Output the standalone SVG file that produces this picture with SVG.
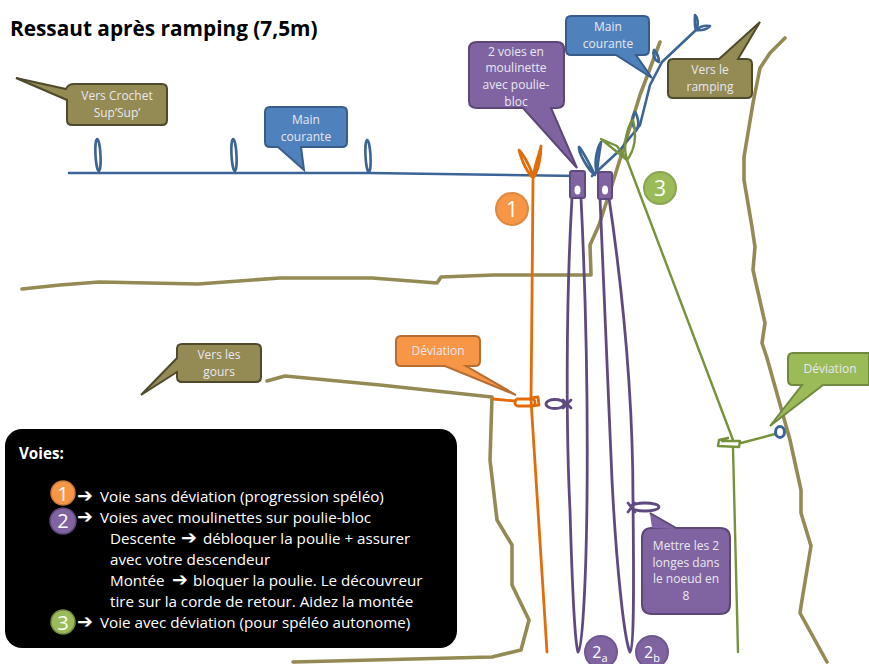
<svg xmlns="http://www.w3.org/2000/svg" width="869" height="664" viewBox="0 0 869 664">
<style>
text{font-family:"Liberation Sans","Open Sans",sans-serif;text-anchor:middle}
.l{fill:#e8e8f0;font-size:12px;font-family:"Open Sans","Liberation Sans",sans-serif}
.r,.b,.o,.p,.g{fill:none;stroke-linecap:round;stroke-linejoin:round}
.r{stroke:#948a54;stroke-width:3.6}
.b{stroke:#3c6494;stroke-width:2.6}
.o{stroke:#e36c0a;stroke-width:2.8}
.p{stroke:#5f4a80;stroke-width:2.8}
.g{stroke:#76923c;stroke-width:2.4}
.cb{fill:#4f81bd;stroke:#385d8a;stroke-width:2}
.co{fill:#f79646;stroke:#b66d31;stroke-width:2}
.cp{fill:#8064a2;stroke:#5c4776;stroke-width:2}
.cg{fill:#9bbb59;stroke:#71893f;stroke-width:2}
.cr{fill:#948a54;stroke:#4f4a2c;stroke-width:2}
.m{fill:#fff;font-size:15.2px;text-anchor:start;font-family:"Open Sans","Liberation Sans",sans-serif}
.n{fill:#fff;font-size:21px;font-family:"Open Sans","Liberation Sans",sans-serif}
.a{fill:#fff;font-size:19px;font-weight:bold;text-anchor:start;font-family:"DejaVu Sans",sans-serif}
</style>
<g id="title"><text x="10" y="36" font-size="20.8" font-weight="bold" style="text-anchor:start;font-family:'Open Sans','Liberation Sans',sans-serif" fill="#000">Ressaut après ramping (7,5m)</text></g>
<g id="connectors">
<path class="r" d="M22 289L60 285L99 282L198 284L280 278L372 278L437 283L441 277L494 275L591 275L590 245L599 225L612 185L640 95L660 42"/>
<path class="r" d="M785 38L770 53L760 68L753 103L744 157L744 180L752 227L755 247L753 270L765 323L762 343L767 358L790 440L801 490L801 513L811 546L802 600L800 613L827 662"/>
<path class="r" d="M267 381L285 376L380 385L492 397L490 460L497 520L512 545L512 585L529 620L521 650L492 657L293 662"/>
<path class="b" d="M69 173L370 173L580 176"/>
<ellipse class="b" cx="98" cy="155" rx="2.500" ry="16" transform="rotate(-3 98 155)"/>
<ellipse class="b" cx="234" cy="155" rx="2.500" ry="16" transform="rotate(-3 234 155)"/>
<ellipse class="b" cx="368" cy="156" rx="2.500" ry="16" transform="rotate(-3 368 156)"/>
<path class="b" d="M592 176L620 150L640 125L650 85L662 62L696 30"/>
<path class="b" d="M595 175C590 165 582 150 579 147C578 152 588 170 595 175Z"/>
<path class="b" d="M597 173C598 160 600 150 601 142C596 150 594 165 597 173Z"/>
<path class="b" d="M636 131C640 125 638 116 635 112C631 118 632 126 636 131Z"/>
<path class="b" d="M659 62C659 55 656 52 654 50C652 54 654 60 659 62Z"/>
<path class="b" d="M696 30C694 24 695 18 695 15C698 18 699 24 696 30ZM696 30C702 31 708 29 710 26C704 25 699 27 696 30Z"/>
<path class="o" d="M533 180L532 300L531 400L547 652"/>
<path class="o" d="M533 178C525 170 520 155 519 150C524 155 532 170 533 178ZM533 178C534 168 539 155 541 146C541 158 538 172 533 178Z"/>
<path class="o" d="M493 399L515 401"/>
<rect class="o" x="515" y="399" width="20" height="7" rx="3"/>
<path class="o" d="M531 398L538 397L539 405L531 406"/>
<path class="p" d="M572 198C566 300 566 430 570 510C572 580 574 640 578 652C582 650 586 590 587 500C588 400 586 300 581 198"/>
<path class="p" d="M600 198C604 300 608 400 612 480C616 560 624 640 630 652C634 650 634 590 633 500C633 400 624 300 609 198"/>
<ellipse class="p" cx="555" cy="404" rx="9" ry="4.500"/><path class="p" d="M563 400L571 408M563 408L571 400"/>
<ellipse class="p" cx="645" cy="507" rx="14" ry="4"/><path class="p" d="M628 503L635 512M628 512L635 503"/>
<path class="g" d="M627 160L733 440"/>
<path class="g" d="M627 160L601 139L617 146L627 160Z"/>
<path class="g" d="M627 160C622 145 628 125 633 120C637 135 635 150 627 160Z"/>
<path class="g" d="M733 448L738 652"/>
<path class="g" d="M728 438L719 440L718 446L739 447L740 441L722 441"/>
<path class="g" d="M741 443L775 434"/>
<ellipse cx="780" cy="432" rx="4.500" ry="5.500" fill="none" stroke="#3c6494" stroke-width="3"/>
</g>
<g id="rock-crochet"><path class="cr" d="M16 78L66 89Q68 84 74 84H162Q167 84 167 89V120Q167 125 162 125H72Q67 125 67 120V100Z"/><text class="l" x="117" y="100">Vers Crochet</text><text class="l" x="117" y="117">Sup’Sup’</text></g>
<g id="main1"><path class="cb" d="M270 107H342Q347 107 347 112V142Q347 147 342 147H301L304 170L278 147H270Q265 147 265 142V112Q265 107 270 107Z"/><text class="l" x="306" y="124">Main</text><text class="l" x="306" y="141">courante</text></g>
<g id="main2"><path class="cb" d="M571 16H644Q649 16 649 21V50Q649 55 644 55H636L652 78L616 55H571Q566 55 566 50V21Q566 16 571 16Z"/><text class="l" x="608" y="31">Main</text><text class="l" x="608" y="48">courante</text></g>
<g id="ramping"><path class="cr" d="M673 59H719L760 22L738 59H747Q752 59 752 64V93Q752 98 747 98H673Q668 98 668 93V64Q668 59 673 59Z"/><text class="l" x="710" y="74">Vers le</text><text class="l" x="710" y="91">ramping</text></g>
<g id="poulie"><path class="cp" d="M477 42H557Q564 42 564 49V101Q564 108 557 108H551L577 168L523 108H477Q469 108 469 101V49Q469 42 477 42Z"/><text class="l" x="516" y="56">2 voies en</text><text class="l" x="516" y="72">moulinette</text><text class="l" x="516" y="89">avec poulie-</text><text class="l" x="516" y="106">bloc</text></g>
<g id="pulley-a"><rect x="570" y="171" width="15" height="27" rx="2" fill="#8064a2" stroke="#5f4a80" stroke-width="2"/><ellipse cx="577.500" cy="190" rx="3" ry="4.500" fill="#fff"/></g>
<g id="pulley-b"><rect x="598" y="172" width="14" height="27" rx="2" fill="#8064a2" stroke="#5f4a80" stroke-width="2"/><ellipse cx="605" cy="190" rx="3" ry="4.500" fill="#fff"/></g>
<g id="num1"><circle cx="512" cy="209" r="16" fill="#f79646" stroke="#e0883f" stroke-width="2"/><text class="n" x="512" y="217">1</text></g>
<g id="num3"><circle cx="660" cy="188" r="16" fill="#9bbb59" stroke="#8aa64e" stroke-width="2"/><text class="n" x="660" y="196">3</text></g>
<g id="gours"><path class="cr" d="M182 344H256Q261 344 261 349V377Q261 382 256 382H182Q177 382 177 377V372L141 395L177 358V349Q177 344 182 344Z"/><text class="l" x="219" y="359">Vers les</text><text class="l" x="219" y="376">gours</text></g>
<g id="dev-o"><path class="co" d="M401 336H475Q480 336 480 341V361Q480 366 475 366H466L516 395L445 366H401Q396 366 396 361V341Q396 336 401 336Z"/><text class="l" x="438" y="355">Déviation</text></g>
<g id="dev-g"><path class="cg" d="M793 353H869V385H823L770 426L802 385H793Q788 385 788 380V358Q788 353 793 353Z"/><text class="l" x="830" y="373">Déviation</text></g>
<g id="knot8"><path class="cp" d="M650 528H676L650 513L662 528H652Q642 528 642 538V604Q642 614 652 614H720Q730 614 730 604V538Q730 528 720 528Z"/><path d="M652 528L650 514L676 529Z" fill="#8064a2"/><text class="l" x="686" y="550">Mettre les 2</text><text class="l" x="686" y="567">longes dans</text><text class="l" x="686" y="583">le noeud en</text><text class="l" x="686" y="600">8</text></g>
<g id="num2a"><circle cx="601" cy="652" r="16" fill="#8064a2" stroke="#6f5790" stroke-width="2"/><text class="n" x="600" y="658" style="font-size:16px">2<tspan dy="4" font-size="11">a</tspan></text></g>
<g id="num2b"><circle cx="652" cy="652" r="16" fill="#8064a2" stroke="#6f5790" stroke-width="2"/><text class="n" x="652" y="658" style="font-size:16px">2<tspan dy="4" font-size="11">b</tspan></text></g>
<g id="legend">
<rect x="5" y="429" width="452" height="219" rx="17" fill="#000"/>
<text class="m" x="19" y="459" style="font-weight:bold">Voies:</text>
<circle cx="63" cy="493" r="12" fill="#f79646" stroke="#c87a38" stroke-width="1.500"/><text class="n" x="63" y="501" style="font-size:20px">1</text>
<circle cx="63" cy="521" r="13" fill="#8064a2" stroke="#5c4776" stroke-width="1.500"/><text class="n" x="63" y="528" style="font-size:20px">2</text>
<circle cx="63" cy="622" r="12" fill="#9bbb59" stroke="#71893f" stroke-width="1.500"/><text class="n" x="63" y="630" style="font-size:20px">3</text>
<text class="a" x="77" y="502">➔</text><text class="m" x="100" y="502">Voie sans déviation (progression spéléo)</text>
<text class="a" x="77" y="523">➔</text><text class="m" x="100" y="523">Voies avec moulinettes sur poulie-bloc</text>
<text class="m" x="110" y="544">Descente</text><text class="a" x="181" y="544">➔</text><text class="m" x="203" y="544">débloquer la poulie + assurer</text>
<text class="m" x="110" y="565">avec votre descendeur</text>
<text class="m" x="110" y="586">Montée</text><text class="a" x="172" y="586">➔</text><text class="m" x="193" y="586">bloquer la poulie. Le découvreur</text>
<text class="m" x="110" y="607">tire sur la corde de retour. Aidez la montée</text>
<text class="a" x="77" y="628">➔</text><text class="m" x="100" y="628">Voie avec déviation (pour spéléo autonome)</text>
</g>
</svg>
